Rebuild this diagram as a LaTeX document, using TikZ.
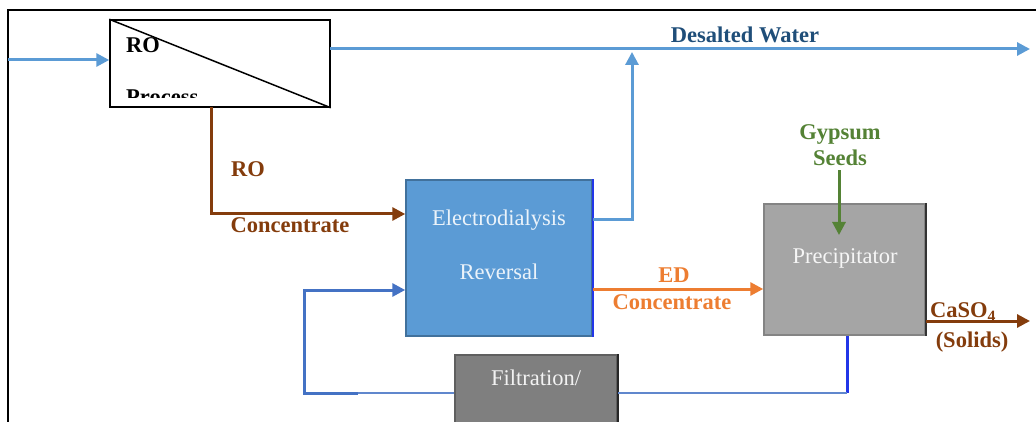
\documentclass[tikz,border=0pt]{standalone}
\usepackage{fontspec}
\setmainfont{Liberation Serif}
\usetikzlibrary{arrows.meta}
\definecolor{lblue}{HTML}{5B9BD5}
\definecolor{edborder}{HTML}{41719C}
\definecolor{rblue}{HTML}{4472C4}
\definecolor{vblue}{HTML}{2236E8}
\definecolor{brown}{HTML}{843C0C}
\definecolor{orng}{HTML}{ED7D31}
\definecolor{grn}{HTML}{548235}
\definecolor{navy}{HTML}{1F4E79}
\definecolor{pgray}{HTML}{A5A5A5}
\definecolor{fgray}{HTML}{7F7F7F}
\tikzset{
  tip/.style={-{Triangle[length=13pt,width=13pt]}},
  flow/.style={line width=3pt},
  lbl/.style={font=\fontsize{22.5}{25}\selectfont\bfseries, inner sep=0pt},
  boxtxt/.style={font=\fontsize{22.5}{25}\selectfont, inner sep=0pt},
  unit/.style={draw, line width=1.5pt, inner sep=0pt},
}
\begin{document}
\begin{tikzpicture}[x=1pt,y=-1pt]
\useasboundingbox (0,0) rectangle (1036,422);
\clip (0,0) rectangle (1036,422);
\fill[white] (0,0) rectangle (1036,422);
% frame
\draw[line width=2pt] (8,430) -- (8,10) -- (1040,10);
% units
\node[unit, draw=black, fill=white, minimum width=220pt, minimum height=87pt] (ro) at (220,63.5) {};
\draw[line width=1.5pt] (ro.north west) -- (ro.south east);
\node[lbl, anchor=west] (rotxt) at (126,45) {RO};
\begin{scope}
\clip (112,20) rectangle (328,98);
\node[lbl, anchor=west] (protxt) at (126,97) {Process};
\end{scope}
\node[unit, draw=edborder, fill=lblue, minimum width=186pt, minimum height=156pt] (ed) at (499,258) {};
\draw[vblue, line width=1.5pt] (ed.north east) -- (ed.south east);
\node[boxtxt, text=white!88!lblue] (ed1) at (499,220) {Electrodialysis};
\node[boxtxt, text=white!88!lblue] (ed2) at (499,272) {Reversal};
\node[unit, draw=pgray!80!black, fill=pgray, minimum width=161pt, minimum height=131pt] (prec) at (844.5,269.5) {};
\draw[black!80, line width=2pt] (prec.north east) -- (prec.south east);
\node[boxtxt, text=white!90!pgray] (prectxt) at (845,258) {Precipitator};
\node[unit, draw=fgray!75!black, fill=fgray, minimum width=162pt, minimum height=70pt] (filt) at (536,390) {};
\draw[black!85, line width=2pt] (filt.north east) -- (filt.south east);
\node[boxtxt, text=white!90!fgray] (filttxt) at (536,378) {Filtration/};
% coordinates
\coordinate (in) at (8,60);
\coordinate (dsA) at (330,49);
\coordinate (dsB) at (1030,49);
\coordinate (edTop) at (632,52);
\coordinate (roOut) at (211,107);
\coordinate (gyTip) at (839,235);
\coordinate (caEnd) at (1030,321);
\coordinate (loopL) at (304,393);
% feed
\draw[lblue, flow, tip] (in) -- (in -| ro.west);
% desalted water
\draw[lblue, flow, tip] (dsA) -- (dsB);
\node[lbl, text=navy] (dslbl) at (745,35) {Desalted Water};
% ED product
\draw[lblue, flow, tip] (ed.east |- 0,220) -| (edTop);
% RO concentrate
\draw[brown, flow, tip] (roOut) |- (ed.west |- 0,214);
\node[lbl, text=brown] (roc1) at (248,169) {RO};
\node[lbl, text=brown] (roc2) at (290,225) {Concentrate};
% ED concentrate
\draw[orng, flow, tip] (ed.east |- 0,289) -- (prec.west |- 0,289);
\node[lbl, text=orng] (edc1) at (674,275) {ED};
\node[lbl, text=orng] (edc2) at (672,302) {Concentrate};
% gypsum
\node[lbl, text=grn] (gy1) at (840,134) {Gypsum};
\node[lbl, text=grn] (gy2) at (840,158) {Seeds};
\draw[grn, flow, tip] (gy2.south -| gyTip) ++(0,4) -- (gyTip);
% CaSO4
\draw[brown, flow, tip] (prec.east |- 0,321) -- (caEnd);
\node[lbl, text=brown] (ca1) at (963,312) {CaSO\textsubscript{4}};
\node[lbl, text=brown] (ca2) at (972,342) {(Solids)};
% recycle loop
\draw[vblue, line width=3pt] (prec.south -| 847,0) -- (847,393);
\draw[rblue!85!white, line width=2pt] (847,393) -- (filt.east |- loopL);
\draw[rblue!85!white, line width=2pt] (filt.west |- loopL) -- (loopL);
\draw[rblue, line width=3pt, tip] (358,393) -- (loopL) |- (ed.west |- 0,290);
\end{tikzpicture}
\end{document}
